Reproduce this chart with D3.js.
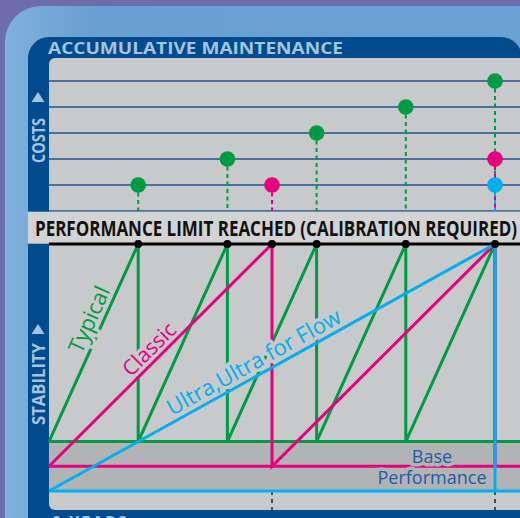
<!DOCTYPE html>
<html lang="en">
<head>
<meta charset="UTF-8">
<title>Accumulative maintenance</title>
<style>
  body { margin: 0; background: #6d6cab; overflow: hidden; }
  svg { display: block; font-family: "Open Sans", "DejaVu Sans", sans-serif; }
  .halo { paint-order: stroke; stroke-linejoin: round; }
</style>
</head>
<body>
<svg id="chart"></svg>
<script src="https://d3js.org/d3.v7.min.js"></script>
<script>
// calibration times (years) for each sensor type
var typicalCalib = [1, 2, 3, 4, 5];
var classicCalib = [2.5, 5];
var ultraCalib = [5];

// accumulated maintenance cost at each calibration
var typicalCost = [1, 2, 3, 4, 5];
var classicCost = [1, 2];
var ultraCost = [1];

// stability: base performance level of each type, and the limit
var seriesNames = ["Typical", "Classic", "Ultra,Ultra for Flow"];
var baseLevels = [2, 1, 0];
var limitLevel = 10;

var costTicks = [0, 1, 2, 3, 4, 5];

var green = "#009a44", pink = "#e6007e", blue = "#00aeef";
var W = 520, H = 518;
var plotLeft = 49, plotRight = 520;

var svg = d3.select("#chart").attr("width", W).attr("height", H);

var x = d3.scaleLinear().domain([0, 5]).range([plotLeft, 495]);
var yCost = d3.scaleLinear().domain([0, 5]).range([211, 81]);
var yStab = d3.scaleLinear().domain([0, limitLevel]).range([491, 244]);

// ---- background frame ----
var defs = svg.append("defs");
var g1 = defs.append("linearGradient").attr("id", "panel").attr("x1", 0).attr("x2", 1).attr("y1", 0).attr("y2", 0);
g1.append("stop").attr("offset", 0).attr("stop-color", "#80b0dc");
g1.append("stop").attr("offset", 0.15).attr("stop-color", "#6a9fd1");
g1.append("stop").attr("offset", 1).attr("stop-color", "#6aa2d4");

svg.append("rect").attr("width", W).attr("height", H).attr("fill", "#6e6cab");
svg.append("rect").attr("x", 5).attr("y", 6).attr("width", 600).attr("height", 600)
    .attr("rx", 36).attr("fill", "url(#panel)");
svg.append("rect").attr("x", 28).attr("y", 37).attr("width", 494).attr("height", 520)
    .attr("rx", 21).attr("fill", "#004b8d");
svg.append("rect").attr("x", plotLeft).attr("y", 58).attr("width", 500).attr("height", 452)
    .attr("rx", 6).attr("fill", "#c8c9cb");

// dark band between the base performance lines
svg.append("rect").attr("x", plotLeft).attr("y", yStab(baseLevels[0]))
    .attr("width", plotRight - plotLeft).attr("height", yStab(baseLevels[2]) - yStab(baseLevels[0]))
    .attr("fill", "#b1b3b5");

// titles
svg.append("text").attr("x", 48).attr("y", 54).attr("textLength", 295)
    .attr("lengthAdjust", "spacingAndGlyphs")
    .attr("font-size", 16.5).attr("font-weight", "bold").attr("fill", "#a6c3de")
    .text("ACCUMULATIVE MAINTENANCE");

function sideLabel(txt, yBottom, len, triTop) {
  svg.append("text").attr("transform", "translate(44.5," + yBottom + ") rotate(-90)")
      .attr("textLength", len).attr("lengthAdjust", "spacingAndGlyphs")
      .attr("font-size", 17.5).attr("font-weight", "bold")
      .attr("fill", "#a6c3de").text(txt);
  svg.append("path").attr("fill", "#a6c3de")
      .attr("d", "M31.5," + (triTop + 10) + "L44.5," + (triTop + 10) + "L38," + triTop + "Z");
}
sideLabel("COSTS", 163, 45, 92);
sideLabel("STABILITY", 425, 82, 324);

svg.append("text").attr("x", 52).attr("y", 528).attr("font-size", 16).attr("font-weight", "bold")
    .attr("letter-spacing", 2).attr("fill", "#a6c3de").text("0 YEARS");

// ---- cost part ----
svg.selectAll(".grid").data(costTicks).enter().append("line")
    .attr("x1", plotLeft).attr("x2", plotRight)
    .attr("y1", function(d) { return yCost(d); }).attr("y2", function(d) { return yCost(d); })
    .attr("stroke", "#1f5591").attr("stroke-width", 1.3);

function costSeries(times, costs, color) {
  var pts = times.map(function(t, i) { return [t, costs[i]]; });
  svg.selectAll(null).data(pts).enter().append("line")
      .attr("x1", function(d) { return x(d[0]); }).attr("x2", function(d) { return x(d[0]); })
      .attr("y1", function(d) { return yCost(d[1]); }).attr("y2", yCost(0))
      .attr("stroke", color).attr("stroke-width", 2).attr("stroke-dasharray", "4,3.5");
  svg.selectAll(null).data(pts).enter().append("circle")
      .attr("cx", function(d) { return x(d[0]); }).attr("cy", function(d) { return yCost(d[1]); })
      .attr("r", 7.8).attr("fill", color);
}
costSeries(typicalCalib, typicalCost, green);
costSeries(classicCalib, classicCost, pink);
costSeries(ultraCalib, ultraCost, blue);

// ---- performance limit band ----
svg.append("rect").attr("x", 28).attr("y", yCost(0) + 0.7).attr("width", 500).attr("height", 32)
    .attr("fill", "#d2d3d4");
svg.append("text").attr("x", 35).attr("y", 235.5).attr("textLength", 482)
    .attr("lengthAdjust", "spacingAndGlyphs").attr("font-size", 20.5).attr("font-weight", "bold")
    .attr("fill", "#111").text("PERFORMANCE LIMIT REACHED (CALIBRATION REQUIRED)");
svg.append("line").attr("x1", plotLeft).attr("x2", plotRight)
    .attr("y1", yStab(limitLevel)).attr("y2", yStab(limitLevel))
    .attr("stroke", "#000").attr("stroke-width", 3);

// ---- stability part ----
var line = d3.line().x(function(d) { return x(d[0]); }).y(function(d) { return yStab(d[1]); });

function sawPoints(calib, base) {
  var pts = [[0, base]];
  calib.forEach(function(t) { pts.push([t, limitLevel]); pts.push([t, base]); });
  return pts;
}

function baseLine(base, color) {
  svg.append("line").attr("x1", plotLeft).attr("x2", plotRight)
      .attr("y1", yStab(base)).attr("y2", yStab(base))
      .attr("stroke", color).attr("stroke-width", 3);
}

function saw(calib, base, color) {
  svg.append("path").datum(sawPoints(calib, base)).attr("d", line)
      .attr("fill", "none").attr("stroke", color).attr("stroke-width", 3)
      .attr("stroke-linejoin", "miter");
}

function slopeLabel(txt, calib, base, t, color, dy, size) {
  var x0 = x(0), y0 = yStab(base), x1 = x(calib[0]), y1 = yStab(limitLevel);
  var px = x(t), py = y0 + (y1 - y0) * (px - x0) / (x1 - x0);
  var ang = Math.atan2(y1 - y0, x1 - x0) * 180 / Math.PI;
  svg.append("text").attr("class", "halo")
      .attr("transform", "translate(" + px + "," + py + ") rotate(" + ang + ")")
      .attr("dy", dy).attr("text-anchor", "middle").attr("font-size", size)
      .attr("fill", color).attr("stroke", "#c8c9cb").attr("stroke-width", 7)
      .text(txt);
}

// black dashed markers under the chart
svg.selectAll(null).data(classicCalib).enter().append("line")
    .attr("x1", function(d) { return x(d); }).attr("x2", function(d) { return x(d); })
    .attr("y1", yStab(0)).attr("y2", 510)
    .attr("stroke", "#222").attr("stroke-width", 1.5).attr("stroke-dasharray", "4,4");

baseLine(baseLevels[0], green);
saw(typicalCalib, baseLevels[0], green);
slopeLabel(seriesNames[1], classicCalib, baseLevels[1], 1.22, pink, -5, 21);
baseLine(baseLevels[1], pink);
saw(classicCalib, baseLevels[1], pink);

// base performance label knocks out the pink line
svg.append("text").attr("class", "halo").attr("text-anchor", "middle")
    .attr("font-size", 18).attr("fill", "#1e5ca6").attr("stroke", "#b1b3b5").attr("stroke-width", 7)
    .selectAll("tspan").data(["Base", "Performance"]).enter().append("tspan")
    .attr("x", 432).attr("y", function(d, i) { return 463 + i * 20.5; }).text(function(d) { return d; });

slopeLabel(seriesNames[2], ultraCalib, baseLevels[2], 2.37, blue, -6, 22);
baseLine(baseLevels[2], blue);
saw(ultraCalib, baseLevels[2], blue);
slopeLabel(seriesNames[0], typicalCalib, baseLevels[0], 0.59, green, -6, 22);

// calibration points on the limit line
var allCalib = d3.sort(Array.from(new Set(typicalCalib.concat(classicCalib, ultraCalib))));
svg.selectAll(null).data(allCalib).enter().append("circle")
    .attr("cx", function(d) { return x(d); }).attr("cy", yStab(limitLevel))
    .attr("r", 4).attr("fill", "#000");
</script>
</body>
</html>
